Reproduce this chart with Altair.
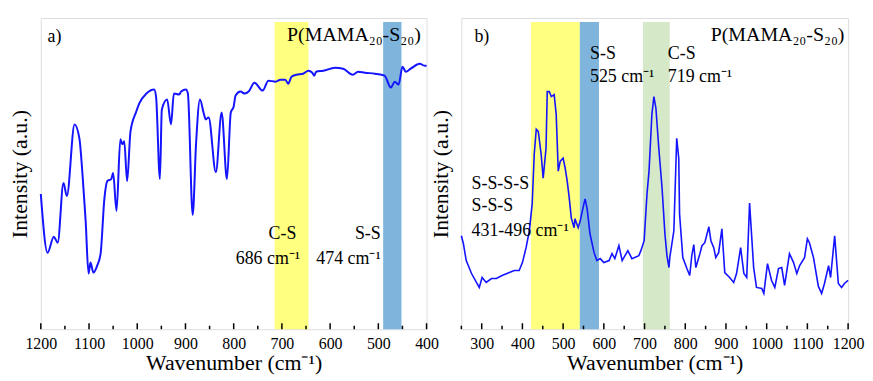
import altair as alt
import pandas as pd

FONT = "Liberation Serif"
LINE = "#1414ff"
H = 313

# ---- panel a) FTIR ----
ir_wn = [1200, 1186, 1173, 1165, 1153, 1146, 1130, 1120, 1113, 1107, 1101, 1097, 1091, 1083,
         1076, 1068, 1062, 1054, 1050, 1043, 1035, 1031, 1027, 1021, 1014, 1002, 996, 981,
         965, 961, 953, 949, 938, 930, 924, 913, 909, 899, 895, 885, 878, 870, 862, 858,
         852, 837, 825, 814, 806, 800, 796, 786, 777, 769, 757, 740, 728, 713, 703, 693,
         687, 680, 670, 656, 645, 637, 633, 629, 614, 590, 573, 553, 542, 528, 507, 487,
         474, 466, 458, 450, 443, 433, 414, 404, 400]
ir_val = [136, 77, 93, 87, 147, 134, 206, 192, 152, 109, 56, 67, 57, 64,
          76, 132, 149, 151, 157, 119, 191, 186, 189, 149, 199, 219, 227, 237,
          241, 234, 151, 221, 231, 206, 237, 236, 239, 241, 237, 115, 187, 231, 217, 211,
          213, 158, 218, 151, 218, 224, 235, 239, 237, 239, 248, 240, 250, 249, 251, 251,
          247, 254, 256, 257, 260, 258, 255, 259, 260, 263, 262, 256, 259, 258, 257, 255,
          243, 249, 246, 264, 259, 262, 267, 265, 265]

ir_band_start = [715, 490]
ir_band_end = [645, 452]
ir_band_color = ["#ffff80", "#7fb5dd"]
ir_ticks = [1200, 1100, 1000, 900, 800, 700, 600, 500, 400]
ir_minor = [1150, 1050, 950, 850, 750, 650, 550, 450]

# ---- panel b) Raman ----
ra_wn = [250, 255, 262, 275, 287, 294, 301, 311, 324, 336, 350, 368, 380, 392, 400, 409, 417,
         424, 429, 434, 439, 446, 451, 458, 461, 466, 471, 478, 483, 488, 493, 500, 505,
         510, 515, 520, 527, 529, 537, 542, 551, 554, 559, 566, 576, 583, 591, 600, 613,
         620, 627, 637, 645, 659, 669, 686, 691, 699, 706, 711, 718, 723, 728, 735, 743,
         750, 755, 760, 762, 772, 779, 784, 786, 794, 804, 811, 816, 821, 826, 836, 841,
         848, 858, 863, 870, 875, 882, 890, 897, 909, 919, 926, 936, 944, 951, 958, 968,
         975, 988, 993, 1002, 1012, 1020, 1029, 1037, 1044, 1056, 1066, 1074, 1081, 1093,
         1100, 1105, 1115, 1127, 1135, 1142, 1152, 1157, 1167, 1176, 1184, 1191, 1200]
ra_val = [94, 86, 69, 56, 47, 42, 52, 47, 51, 51, 54, 57, 59, 59, 67, 82, 99,
          126, 176, 201, 199, 176, 152, 182, 239, 239, 234, 236, 216, 159, 169, 172, 162,
          149, 132, 112, 102, 111, 102, 109, 126, 131, 121, 96, 77, 69, 71, 67, 69,
          76, 71, 84, 69, 79, 71, 74, 79, 89, 136, 159, 216, 234, 222, 182, 142,
          96, 74, 62, 72, 99, 192, 172, 116, 72, 61, 54, 74, 85, 62, 76, 84,
          87, 103, 89, 82, 72, 77, 101, 57, 52, 47, 56, 82, 56, 52, 127, 62,
          42, 41, 36, 66, 49, 42, 61, 62, 44, 76, 67, 56, 64, 72,
          91, 87, 72, 43, 36, 46, 64, 52, 94, 46, 42, 46, 49]

ra_band_start = [421, 541, 696]
ra_band_end = [541, 588, 762]
ra_band_color = ["#ffff80", "#7fb5dd", "#d5e8c8"]
ra_ticks = [300, 400, 500, 600, 700, 800, 900, 1000, 1100, 1200]
ra_minor = [250, 350, 450, 550, 650, 750, 850, 950, 1050, 1150]

# tick lengths in intensity units (major / minor)
MAJOR_LEN = 6
MINOR_LEN = 3.5

# annotations (text, x in cm-1, y in intensity units)
ir_notes_left = [("a)", 1186, 294)]
ir_notes_right = [("C-S", 670, 96), ("686 cm⁻¹", 662, 71),
                  ("S-S", 495, 96), ("474 cm⁻¹", 495, 71)]
ir_title = [("P(MAMA₂₀-S₂₀)", 412, 296)]
ra_notes_left = [("b)", 282, 294), ("S-S", 566, 277), ("525 cm⁻¹", 566, 254),
                 ("C-S", 757, 277), ("719 cm⁻¹", 757, 254),
                 ("S-S-S-S", 275, 146), ("S-S-S", 275, 124), ("431-496 cm⁻¹", 275, 99)]
ra_title = [("P(MAMA₂₀-S₂₀)", 1191, 296)]


def panel(wn, val, bs, be, bc, ticks, minor, xscale, notes_left, notes_right, title_notes,
          width, lw, interp):
    yscale = alt.Scale(domain=[0, H], nice=False, zero=False)
    line_df = pd.DataFrame({"wn": wn, "val": val})
    band_df = pd.DataFrame({"a": bs, "b": be, "c": bc})
    tick_df = pd.DataFrame({"wn": ticks + minor,
                            "y0": [0] * (len(ticks) + len(minor)),
                            "y1": [MAJOR_LEN] * len(ticks) + [MINOR_LEN] * len(minor)})

    x = alt.X("wn:Q", scale=xscale,
              axis=alt.Axis(values=ticks, format="d", ticks=False, domain=False, grid=False,
                            labelFont=FONT, labelFontSize=16, labelColor="black",
                            labelPadding=6, labelFlush=False, labelOverlap=False,
                            title="Wavenumber (cm⁻¹)", titleFont=FONT, titleFontSize=22,
                            titleFontWeight="normal", titleColor="black", titlePadding=2))
    y = alt.Y("val:Q", scale=yscale,
              axis=alt.Axis(labels=False, ticks=False, domain=False, grid=False,
                            title="Intensity (a.u.)", titleFont=FONT, titleFontSize=22,
                            titleFontWeight="normal", titleColor="black", titlePadding=9))

    bands = alt.Chart(band_df).mark_rect(opacity=1).encode(
        x=alt.X("a:Q", scale=xscale), x2="b:Q",
        y=alt.value(4), y2=alt.value(H),
        color=alt.Color("c:N", scale=None))
    line = alt.Chart(line_df).mark_line(color=LINE, strokeWidth=lw, interpolate=interp).encode(x=x, y=y)
    tks = alt.Chart(tick_df).mark_rule(color="black", strokeWidth=1.5).encode(
        x=alt.X("wn:Q", scale=xscale), y=alt.Y("y0:Q", scale=yscale), y2="y1:Q")

    layers = [bands, line, tks]

    def txt(items, align, size):
        df = pd.DataFrame(items, columns=["t", "wn", "val"])
        return alt.Chart(df).mark_text(align=align, baseline="middle", font=FONT,
                                       fontSize=size, color="black").encode(
            x=alt.X("wn:Q", scale=xscale),
            y=alt.Y("val:Q", scale=yscale),
            text="t:N")

    if notes_left:
        layers.append(txt(notes_left, "left", 18))
    if notes_right:
        layers.append(txt(notes_right, "right", 18))
    layers.append(txt(title_notes, "right", 20))
    return alt.layer(*layers).properties(width=width, height=H)


left = panel(ir_wn, ir_val, ir_band_start, ir_band_end, ir_band_color, ir_ticks, ir_minor,
             alt.Scale(domain=[400, 1200], reverse=True, nice=False, zero=False),
             ir_notes_left, ir_notes_right, ir_title, 388, 2, "monotone")
right = panel(ra_wn, ra_val, ra_band_start, ra_band_end, ra_band_color, ra_ticks, ra_minor,
              alt.Scale(domain=[250, 1200], nice=False, zero=False),
              ra_notes_left, [], ra_title, 389, 1.6, "linear")

chart = alt.hconcat(left, right, spacing=35, bounds="flush").properties(
    padding={"left": 0, "top": 8, "right": 0, "bottom": 0}
).configure_view(stroke="black", strokeWidth=2).configure(background="white")

chart.save("out.html", embed_options={"renderer": "svg", "actions": False})
